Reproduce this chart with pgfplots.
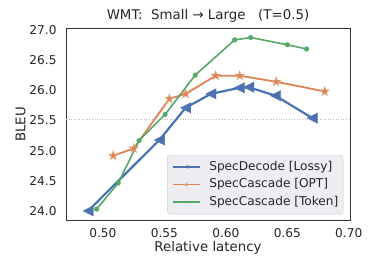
\documentclass[border=0pt]{standalone}
\usepackage{pgfplots}
\pgfplotsset{compat=1.18}
\usepackage{fontspec}
\setmainfont{DejaVu Sans}
\definecolor{cblue}{HTML}{4C72B0}
\definecolor{corange}{HTML}{DD8452}
\definecolor{cgreen}{HTML}{55A868}
\definecolor{legfill}{RGB}{238,238,242}
\pgfdeclareplotmark{tril}{%
  \pgfpathmoveto{\pgfqpoint{-\pgfplotmarksize}{0pt}}%
  \pgfpathlineto{\pgfqpoint{\pgfplotmarksize}{\pgfplotmarksize}}%
  \pgfpathlineto{\pgfqpoint{\pgfplotmarksize}{-\pgfplotmarksize}}%
  \pgfpathclose\pgfusepathqfillstroke}
\pgfdeclareplotmark{fstar}{%
  \pgfpathmoveto{\pgfpointpolar{90}{\pgfplotmarksize}}%
  \pgfpathlineto{\pgfpointpolar{126}{0.382\pgfplotmarksize}}%
  \pgfpathlineto{\pgfpointpolar{162}{\pgfplotmarksize}}%
  \pgfpathlineto{\pgfpointpolar{198}{0.382\pgfplotmarksize}}%
  \pgfpathlineto{\pgfpointpolar{234}{\pgfplotmarksize}}%
  \pgfpathlineto{\pgfpointpolar{270}{0.382\pgfplotmarksize}}%
  \pgfpathlineto{\pgfpointpolar{306}{\pgfplotmarksize}}%
  \pgfpathlineto{\pgfpointpolar{342}{0.382\pgfplotmarksize}}%
  \pgfpathlineto{\pgfpointpolar{18}{\pgfplotmarksize}}%
  \pgfpathlineto{\pgfpointpolar{54}{0.382\pgfplotmarksize}}%
  \pgfpathclose\pgfusepathqfillstroke}
\begin{document}
\begin{tikzpicture}
\begin{axis}[
  scale only axis, width=284bp, height=191.3bp,
  xmin=0.47, xmax=0.701, ymin=23.86, ymax=27.015,
  xtick={0.5,0.55,0.6,0.65,0.7}, xticklabels={0.50,0.55,0.60,0.65,0.70},
  ytick={24,24.5,25,25.5,26,26.5,27}, yticklabels={24.0,24.5,25.0,25.5,26.0,26.5,27.0},
  major tick length=0pt,
  tick label style={font=\fontsize{12.2}{14}\selectfont, text=black!85},
  xticklabel style={anchor=base, yshift=-17.3bp},
  yticklabel style={anchor=east, inner sep=0pt, xshift=-9.3bp},
  axis line style={black!80, line width=0.8bp},
  xlabel={Relative latency}, ylabel={BLEU},
  label style={font=\fontsize{13.4}{15}\selectfont, text=black!85},
  xlabel style={at={(axis description cs:0.5,0)}, anchor=base, yshift=-31.7bp},
  ylabel style={at={(axis description cs:0,0.5)}, anchor=center, rotate=0, yshift=45.3bp},
  title={WMT:\ \ Small → Large\ \ \ (T=0.5)},
  title style={font=\fontsize{13.4}{15}\selectfont, text=black!85, at={(axis description cs:0.5,1)}, anchor=base, yshift=3bp},
  legend cell align=left,
  legend image code/.code={\draw[mark repeat=2,mark phase=2] plot coordinates {(0bp,0bp) (13.3bp,0bp) (26.6bp,0bp)};},
  legend style={at={(axis description cs:1,0)}, anchor=south east, xshift=-6.7bp, yshift=5.7bp,
    fill=legfill, draw=black!20, rounded corners=3bp, inner xsep=4.7bp, inner ysep=6bp,
    font=\fontsize{12.2}{14}\selectfont, text=black!85,
    nodes={inner sep=0pt, text height=9bp, text depth=2.7bp},
    column sep=8.4bp, row sep=6bp},
]
\addplot[black!25, dotted, line width=0.6bp, forget plot] coordinates {(0.47,25.52) (0.701,25.52)};
\addplot[cblue, line width=2.2bp, mark=tril, mark size=5.2pt,
  mark options={solid, fill=cblue, draw=cblue, line width=0.3pt},
  legend image post style={mark size=1.6pt}] coordinates {
  (0.488,24.01) (0.546,25.18) (0.5673,25.71) (0.5878,25.94) (0.611,26.04) (0.6186,26.05) (0.6404,25.91) (0.6704,25.54)};
\addlegendentry{SpecDecode [Lossy]}
\addplot[corange, line width=1.8bp, mark=fstar, mark size=5pt,
  mark options={solid, fill=corange, draw=corange!70!white, line width=0.4pt},
  legend image post style={mark size=1.8pt}] coordinates {
  (0.5084,24.92) (0.5251,25.04) (0.5541,25.86) (0.5673,25.94) (0.5918,26.24) (0.6113,26.24) (0.641,26.14) (0.6804,25.98)};
\addlegendentry{SpecCascade [OPT]}
\addplot[cgreen, line width=1.6bp, mark=*, mark size=2.4pt,
  mark options={solid, fill=cgreen, draw=cgreen, line width=0.3pt},
  legend image post style={mark size=1pt}] coordinates {
  (0.4949,24.04) (0.5125,24.47) (0.5294,25.17) (0.5506,25.60) (0.5751,26.25) (0.6072,26.83) (0.6202,26.87) (0.650,26.75) (0.6657,26.68)};
\addlegendentry{SpecCascade [Token]}
\end{axis}
\pgfresetboundingbox
\path[use as bounding box] (-66bp,-50bp) rectangle (312bp,220bp);
\end{tikzpicture}
\end{document}
